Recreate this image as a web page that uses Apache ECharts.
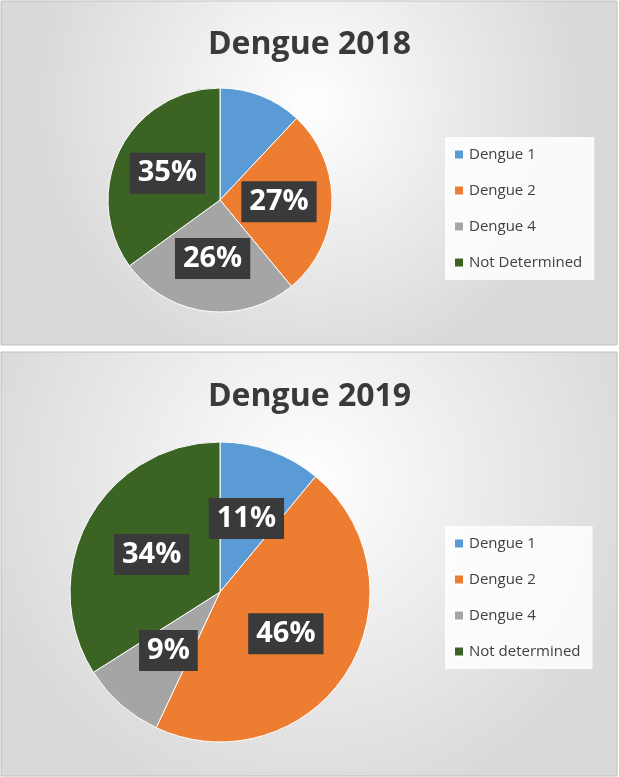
<!DOCTYPE html>
<html><head><meta charset="utf-8">
<script src="https://cdn.jsdelivr.net/npm/echarts@6/dist/echarts.min.js"></script>
<style>html,body{margin:0;padding:0;background:#fff}#main{width:619px;height:777px}</style>
</head><body><div id="main"></div>
<script>
const colors = ['#5B9BD5', '#ED7D31', '#A5A5A5', '#3B6323'];
const names2018 = ['Dengue 1', 'Dengue 2', 'Dengue 4', 'Not Determined'];
const values2018 = [12, 27, 26, 35];
const names2019 = ['Dengue 1', 'Dengue 2', 'Dengue 4', 'Not determined'];
const values2019 = [11, 46, 9, 34];

const chart = echarts.init(document.getElementById('main'));
const bg = {type: 'radial', x: 0.5, y: 0.3, r: 0.8,
  colorStops: [{offset: 0, color: '#ffffff'}, {offset: 1, color: '#d9d9d9'}]};
const label = {
  show: true, position: 'inner', formatter: '{c}%',
  color: '#fff', fontSize: 29, fontWeight: 'bold', fontFamily: 'Open Sans',
  backgroundColor: '#3a3a3a', padding: [6, 8]
};
function legendFor(names, top) {
  return {
    data: names, orient: 'vertical', left: 445, top: top, itemGap: 21,
    itemWidth: 10, itemHeight: 10, icon: 'rect',
    backgroundColor: 'rgba(255,255,255,0.85)', padding: [10, 12, 10, 8],
    textStyle: {fontSize: 15, color: '#404040', fontFamily: 'Open Sans'}
  };
}
chart.setOption({
  animation: false,
  graphic: [
    {type: 'rect', shape: {x: 1, y: 1, width: 616, height: 344}, style: {fill: bg, stroke: '#bfbfbf'}},
    {type: 'rect', shape: {x: 1, y: 352, width: 616, height: 424}, style: {fill: bg, stroke: '#bfbfbf'}}
  ],
  title: [
    {text: 'Dengue 2018', left: 'center', top: 24, textStyle: {fontSize: 32, fontWeight: 'bold', color: '#3a3a3a', fontFamily: 'Open Sans'}},
    {text: 'Dengue 2019', left: 'center', top: 376, textStyle: {fontSize: 32, fontWeight: 'bold', color: '#3a3a3a', fontFamily: 'Open Sans'}}
  ],
  legend: [legendFor(names2018, 137), legendFor(names2019, 526)],
  series: [
    {type: 'pie', center: [220, 200], radius: [0, 112], startAngle: 90, clockwise: true,
     label: label, labelLine: {show: false},
     itemStyle: {borderColor: '#fff', borderWidth: 1},
     data: names2018.map((n, i) => ({name: n, value: values2018[i], itemStyle: {color: colors[i]}}))},
    {type: 'pie', center: [220, 592], radius: [0, 150], startAngle: 90, clockwise: true,
     label: label, labelLine: {show: false},
     itemStyle: {borderColor: '#fff', borderWidth: 1},
     data: names2019.map((n, i) => ({name: n, value: values2019[i], itemStyle: {color: colors[i]}}))}
  ]
});
</script></body></html>
